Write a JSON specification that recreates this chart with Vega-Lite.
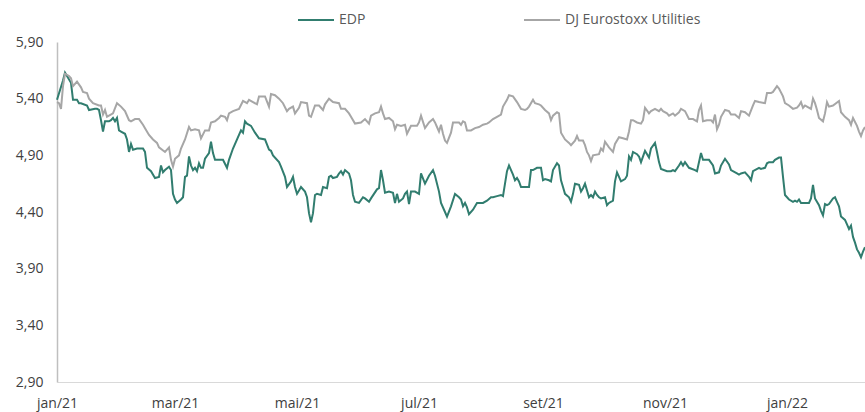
{
  "$schema": "https://vega.github.io/schema/vega-lite/v6.json",
  "width": 808,
  "height": 340,
  "autosize": "none",
  "padding": {"left": 57, "top": 42, "right": 0, "bottom": 30},
  "config": {"view": {"stroke": null}, "font": "Open Sans"},
  "datasets": {
    "edp": [
      {"date":"2021-01-01","value":5.39},{"date":"2021-01-04","value":5.56},{"date":"2021-01-05","value":5.63},{"date":"2021-01-06","value":5.60},{"date":"2021-01-08","value":5.54},{"date":"2021-01-09","value":5.39},{"date":"2021-01-11","value":5.39},{"date":"2021-01-12","value":5.36},{"date":"2021-01-13","value":5.36},{"date":"2021-01-16","value":5.34},{"date":"2021-01-17","value":5.30},{"date":"2021-01-20","value":5.31},{"date":"2021-01-21","value":5.31},{"date":"2021-01-22","value":5.30},{"date":"2021-01-23","value":5.21},{"date":"2021-01-24","value":5.11},{"date":"2021-01-25","value":5.20},{"date":"2021-01-27","value":5.20},{"date":"2021-01-28","value":5.21},{"date":"2021-01-29","value":5.23},{"date":"2021-01-30","value":5.20},{"date":"2021-01-31","value":5.23},
      {"date":"2021-02-01","value":5.12},{"date":"2021-02-02","value":5.11},{"date":"2021-02-04","value":5.09},{"date":"2021-02-05","value":5.04},{"date":"2021-02-06","value":4.93},{"date":"2021-02-07","value":5.00},{"date":"2021-02-08","value":4.95},{"date":"2021-02-10","value":4.96},{"date":"2021-02-13","value":4.96},{"date":"2021-02-14","value":4.93},{"date":"2021-02-15","value":4.79},{"date":"2021-02-17","value":4.76},{"date":"2021-02-19","value":4.70},{"date":"2021-02-21","value":4.71},{"date":"2021-02-22","value":4.81},{"date":"2021-02-23","value":4.75},{"date":"2021-02-24","value":4.77},{"date":"2021-02-26","value":4.80},{"date":"2021-02-27","value":4.77},{"date":"2021-02-28","value":4.56},
      {"date":"2021-03-01","value":4.51},{"date":"2021-03-02","value":4.48},{"date":"2021-03-04","value":4.51},{"date":"2021-03-05","value":4.53},{"date":"2021-03-06","value":4.71},{"date":"2021-03-07","value":4.72},{"date":"2021-03-08","value":4.89},{"date":"2021-03-09","value":4.81},{"date":"2021-03-10","value":4.77},{"date":"2021-03-11","value":4.79},{"date":"2021-03-12","value":4.76},{"date":"2021-03-13","value":4.83},{"date":"2021-03-14","value":4.79},{"date":"2021-03-15","value":4.79},{"date":"2021-03-16","value":4.87},{"date":"2021-03-18","value":4.92},{"date":"2021-03-19","value":5.02},{"date":"2021-03-20","value":4.92},{"date":"2021-03-21","value":4.86},{"date":"2021-03-23","value":4.86},{"date":"2021-03-25","value":4.86},{"date":"2021-03-27","value":4.79},{"date":"2021-03-28","value":4.86},{"date":"2021-03-30","value":4.96},
      {"date":"2021-04-02","value":5.08},{"date":"2021-04-03","value":5.12},{"date":"2021-04-04","value":5.10},{"date":"2021-04-05","value":5.20},{"date":"2021-04-06","value":5.18},{"date":"2021-04-08","value":5.16},{"date":"2021-04-10","value":5.10},{"date":"2021-04-12","value":5.05},{"date":"2021-04-15","value":5.04},{"date":"2021-04-17","value":4.95},{"date":"2021-04-18","value":4.94},{"date":"2021-04-19","value":4.90},{"date":"2021-04-22","value":4.84},{"date":"2021-04-23","value":4.80},{"date":"2021-04-25","value":4.71},{"date":"2021-04-26","value":4.62},{"date":"2021-04-28","value":4.67},{"date":"2021-04-29","value":4.71},{"date":"2021-04-30","value":4.62},
      {"date":"2021-05-01","value":4.56},{"date":"2021-05-02","value":4.59},{"date":"2021-05-03","value":4.62},{"date":"2021-05-05","value":4.58},{"date":"2021-05-06","value":4.53},{"date":"2021-05-07","value":4.39},{"date":"2021-05-08","value":4.31},{"date":"2021-05-09","value":4.39},{"date":"2021-05-10","value":4.55},{"date":"2021-05-11","value":4.56},{"date":"2021-05-13","value":4.55},{"date":"2021-05-14","value":4.62},{"date":"2021-05-16","value":4.61},{"date":"2021-05-17","value":4.71},{"date":"2021-05-18","value":4.72},{"date":"2021-05-19","value":4.70},{"date":"2021-05-21","value":4.71},{"date":"2021-05-22","value":4.74},{"date":"2021-05-23","value":4.76},{"date":"2021-05-24","value":4.73},{"date":"2021-05-25","value":4.77},{"date":"2021-05-27","value":4.74},{"date":"2021-05-28","value":4.68},{"date":"2021-05-29","value":4.55},{"date":"2021-05-30","value":4.49},
      {"date":"2021-06-01","value":4.48},{"date":"2021-06-03","value":4.53},{"date":"2021-06-04","value":4.52},{"date":"2021-06-06","value":4.49},{"date":"2021-06-07","value":4.52},{"date":"2021-06-10","value":4.60},{"date":"2021-06-11","value":4.61},{"date":"2021-06-12","value":4.77},{"date":"2021-06-13","value":4.68},{"date":"2021-06-14","value":4.57},{"date":"2021-06-16","value":4.58},{"date":"2021-06-18","value":4.57},{"date":"2021-06-19","value":4.48},{"date":"2021-06-20","value":4.56},{"date":"2021-06-21","value":4.49},{"date":"2021-06-23","value":4.52},{"date":"2021-06-24","value":4.56},{"date":"2021-06-25","value":4.58},{"date":"2021-06-26","value":4.47},{"date":"2021-06-27","value":4.58},{"date":"2021-06-29","value":4.58},
      {"date":"2021-07-01","value":4.56},{"date":"2021-07-02","value":4.74},{"date":"2021-07-04","value":4.65},{"date":"2021-07-06","value":4.72},{"date":"2021-07-08","value":4.77},{"date":"2021-07-09","value":4.72},{"date":"2021-07-11","value":4.58},{"date":"2021-07-12","value":4.48},{"date":"2021-07-14","value":4.40},{"date":"2021-07-15","value":4.36},{"date":"2021-07-17","value":4.45},{"date":"2021-07-19","value":4.56},{"date":"2021-07-21","value":4.53},{"date":"2021-07-22","value":4.51},{"date":"2021-07-23","value":4.45},{"date":"2021-07-24","value":4.48},{"date":"2021-07-25","value":4.44},{"date":"2021-07-26","value":4.38},{"date":"2021-07-28","value":4.42},{"date":"2021-07-30","value":4.48},
      {"date":"2021-08-02","value":4.48},{"date":"2021-08-04","value":4.50},{"date":"2021-08-06","value":4.53},{"date":"2021-08-07","value":4.53},{"date":"2021-08-09","value":4.54},{"date":"2021-08-11","value":4.55},{"date":"2021-08-12","value":4.54},{"date":"2021-08-13","value":4.65},{"date":"2021-08-14","value":4.76},{"date":"2021-08-15","value":4.81},{"date":"2021-08-17","value":4.73},{"date":"2021-08-18","value":4.68},{"date":"2021-08-19","value":4.70},{"date":"2021-08-20","value":4.67},{"date":"2021-08-21","value":4.62},{"date":"2021-08-25","value":4.62},{"date":"2021-08-26","value":4.77},{"date":"2021-08-27","value":4.77},{"date":"2021-08-29","value":4.79},{"date":"2021-08-30","value":4.79},{"date":"2021-08-31","value":4.79},
      {"date":"2021-09-01","value":4.68},{"date":"2021-09-02","value":4.69},{"date":"2021-09-04","value":4.68},{"date":"2021-09-05","value":4.67},{"date":"2021-09-06","value":4.77},{"date":"2021-09-08","value":4.83},{"date":"2021-09-09","value":4.81},{"date":"2021-09-10","value":4.68},{"date":"2021-09-11","value":4.62},{"date":"2021-09-12","value":4.56},{"date":"2021-09-14","value":4.53},{"date":"2021-09-15","value":4.49},{"date":"2021-09-16","value":4.56},{"date":"2021-09-17","value":4.65},{"date":"2021-09-19","value":4.64},{"date":"2021-09-20","value":4.58},{"date":"2021-09-21","value":4.61},{"date":"2021-09-22","value":4.65},{"date":"2021-09-24","value":4.53},{"date":"2021-09-25","value":4.55},{"date":"2021-09-26","value":4.53},{"date":"2021-09-27","value":4.58},{"date":"2021-09-28","value":4.55},{"date":"2021-09-29","value":4.53},{"date":"2021-09-30","value":4.52},
      {"date":"2021-10-02","value":4.53},{"date":"2021-10-03","value":4.46},{"date":"2021-10-04","value":4.48},{"date":"2021-10-06","value":4.50},{"date":"2021-10-07","value":4.67},{"date":"2021-10-08","value":4.75},{"date":"2021-10-09","value":4.71},{"date":"2021-10-10","value":4.67},{"date":"2021-10-12","value":4.69},{"date":"2021-10-13","value":4.72},{"date":"2021-10-14","value":4.89},{"date":"2021-10-15","value":4.86},{"date":"2021-10-16","value":4.93},{"date":"2021-10-18","value":4.91},{"date":"2021-10-19","value":4.89},{"date":"2021-10-20","value":4.84},{"date":"2021-10-22","value":4.94},{"date":"2021-10-24","value":4.88},{"date":"2021-10-25","value":4.96},{"date":"2021-10-27","value":5.01},{"date":"2021-10-28","value":4.93},{"date":"2021-10-29","value":4.84},{"date":"2021-10-30","value":4.78},
      {"date":"2021-11-02","value":4.76},{"date":"2021-11-04","value":4.76},{"date":"2021-11-05","value":4.77},{"date":"2021-11-06","value":4.76},{"date":"2021-11-08","value":4.81},{"date":"2021-11-09","value":4.84},{"date":"2021-11-10","value":4.81},{"date":"2021-11-11","value":4.84},{"date":"2021-11-13","value":4.79},{"date":"2021-11-16","value":4.77},{"date":"2021-11-17","value":4.76},{"date":"2021-11-19","value":4.92},{"date":"2021-11-20","value":4.86},{"date":"2021-11-23","value":4.86},{"date":"2021-11-25","value":4.81},{"date":"2021-11-26","value":4.74},{"date":"2021-11-28","value":4.75},{"date":"2021-11-29","value":4.81},
      {"date":"2021-12-01","value":4.87},{"date":"2021-12-03","value":4.82},{"date":"2021-12-04","value":4.77},{"date":"2021-12-07","value":4.74},{"date":"2021-12-08","value":4.73},{"date":"2021-12-09","value":4.74},{"date":"2021-12-11","value":4.75},{"date":"2021-12-13","value":4.71},{"date":"2021-12-14","value":4.68},{"date":"2021-12-15","value":4.76},{"date":"2021-12-18","value":4.79},{"date":"2021-12-19","value":4.78},{"date":"2021-12-21","value":4.79},{"date":"2021-12-22","value":4.83},{"date":"2021-12-23","value":4.84},{"date":"2021-12-25","value":4.84},{"date":"2021-12-26","value":4.86},{"date":"2021-12-28","value":4.88},{"date":"2021-12-29","value":4.88},{"date":"2021-12-30","value":4.71},{"date":"2021-12-31","value":4.55},
      {"date":"2022-01-02","value":4.51},{"date":"2022-01-04","value":4.49},{"date":"2022-01-05","value":4.50},{"date":"2022-01-06","value":4.49},{"date":"2022-01-07","value":4.51},{"date":"2022-01-08","value":4.48},{"date":"2022-01-10","value":4.48},{"date":"2022-01-12","value":4.48},{"date":"2022-01-13","value":4.52},{"date":"2022-01-14","value":4.64},{"date":"2022-01-15","value":4.52},{"date":"2022-01-17","value":4.46},{"date":"2022-01-18","value":4.41},{"date":"2022-01-19","value":4.37},{"date":"2022-01-20","value":4.47},{"date":"2022-01-21","value":4.46},{"date":"2022-01-22","value":4.47},{"date":"2022-01-24","value":4.52},{"date":"2022-01-25","value":4.53},{"date":"2022-01-26","value":4.49},{"date":"2022-01-27","value":4.45},{"date":"2022-01-28","value":4.36},{"date":"2022-01-30","value":4.33},{"date":"2022-01-31","value":4.29},
      {"date":"2022-02-01","value":4.25},{"date":"2022-02-02","value":4.28},{"date":"2022-02-03","value":4.18},{"date":"2022-02-04","value":4.13},{"date":"2022-02-05","value":4.07},{"date":"2022-02-06","value":4.04},{"date":"2022-02-07","value":4.00},{"date":"2022-02-08","value":4.05},{"date":"2022-02-09","value":4.09}
    ],
    "dj": [
      {"date":"2021-01-01","value":5.37},{"date":"2021-01-02","value":5.36},{"date":"2021-01-03","value":5.31},{"date":"2021-01-04","value":5.51},{"date":"2021-01-05","value":5.62},{"date":"2021-01-07","value":5.60},{"date":"2021-01-08","value":5.58},{"date":"2021-01-09","value":5.51},{"date":"2021-01-11","value":5.55},{"date":"2021-01-13","value":5.50},{"date":"2021-01-14","value":5.46},{"date":"2021-01-16","value":5.45},{"date":"2021-01-17","value":5.40},{"date":"2021-01-19","value":5.36},{"date":"2021-01-22","value":5.34},{"date":"2021-01-23","value":5.34},{"date":"2021-01-24","value":5.26},{"date":"2021-01-25","value":5.30},{"date":"2021-01-26","value":5.24},{"date":"2021-01-27","value":5.25},{"date":"2021-01-29","value":5.27},{"date":"2021-01-31","value":5.36},
      {"date":"2021-02-02","value":5.33},{"date":"2021-02-04","value":5.29},{"date":"2021-02-06","value":5.21},{"date":"2021-02-07","value":5.20},{"date":"2021-02-09","value":5.22},{"date":"2021-02-11","value":5.22},{"date":"2021-02-13","value":5.17},{"date":"2021-02-14","value":5.14},{"date":"2021-02-16","value":5.08},{"date":"2021-02-18","value":5.04},{"date":"2021-02-20","value":5.01},{"date":"2021-02-21","value":4.97},{"date":"2021-02-24","value":4.93},{"date":"2021-02-26","value":4.97},{"date":"2021-02-27","value":4.86},{"date":"2021-02-28","value":4.80},
      {"date":"2021-03-01","value":4.87},{"date":"2021-03-03","value":4.90},{"date":"2021-03-04","value":4.96},{"date":"2021-03-06","value":5.04},{"date":"2021-03-08","value":5.15},{"date":"2021-03-09","value":5.12},{"date":"2021-03-11","value":5.13},{"date":"2021-03-13","value":5.12},{"date":"2021-03-14","value":5.05},{"date":"2021-03-16","value":5.12},{"date":"2021-03-18","value":5.12},{"date":"2021-03-19","value":5.19},{"date":"2021-03-21","value":5.20},{"date":"2021-03-23","value":5.23},{"date":"2021-03-24","value":5.25},{"date":"2021-03-26","value":5.24},{"date":"2021-03-27","value":5.21},{"date":"2021-03-28","value":5.27},{"date":"2021-03-30","value":5.29},
      {"date":"2021-04-02","value":5.31},{"date":"2021-04-04","value":5.38},{"date":"2021-04-06","value":5.36},{"date":"2021-04-07","value":5.39},{"date":"2021-04-09","value":5.37},{"date":"2021-04-11","value":5.35},{"date":"2021-04-12","value":5.42},{"date":"2021-04-15","value":5.42},{"date":"2021-04-17","value":5.33},{"date":"2021-04-18","value":5.44},{"date":"2021-04-20","value":5.43},{"date":"2021-04-22","value":5.40},{"date":"2021-04-24","value":5.36},{"date":"2021-04-26","value":5.29},{"date":"2021-04-27","value":5.31},{"date":"2021-04-29","value":5.33},{"date":"2021-04-30","value":5.27},
      {"date":"2021-05-02","value":5.32},{"date":"2021-05-03","value":5.37},{"date":"2021-05-06","value":5.36},{"date":"2021-05-07","value":5.25},{"date":"2021-05-08","value":5.24},{"date":"2021-05-10","value":5.34},{"date":"2021-05-12","value":5.34},{"date":"2021-05-14","value":5.30},{"date":"2021-05-15","value":5.35},{"date":"2021-05-17","value":5.40},{"date":"2021-05-19","value":5.37},{"date":"2021-05-22","value":5.36},{"date":"2021-05-23","value":5.31},{"date":"2021-05-25","value":5.31},{"date":"2021-05-27","value":5.27},{"date":"2021-05-28","value":5.24},{"date":"2021-05-30","value":5.18},
      {"date":"2021-06-02","value":5.19},{"date":"2021-06-04","value":5.22},{"date":"2021-06-06","value":5.18},{"date":"2021-06-07","value":5.25},{"date":"2021-06-09","value":5.27},{"date":"2021-06-11","value":5.28},{"date":"2021-06-12","value":5.33},{"date":"2021-06-13","value":5.27},{"date":"2021-06-14","value":5.22},{"date":"2021-06-16","value":5.23},{"date":"2021-06-18","value":5.20},{"date":"2021-06-19","value":5.13},{"date":"2021-06-20","value":5.17},{"date":"2021-06-22","value":5.16},{"date":"2021-06-24","value":5.17},{"date":"2021-06-25","value":5.09},{"date":"2021-06-27","value":5.16},{"date":"2021-06-30","value":5.16},
      {"date":"2021-07-01","value":5.19},{"date":"2021-07-02","value":5.25},{"date":"2021-07-04","value":5.14},{"date":"2021-07-06","value":5.19},{"date":"2021-07-08","value":5.22},{"date":"2021-07-09","value":5.19},{"date":"2021-07-10","value":5.15},{"date":"2021-07-11","value":5.11},{"date":"2021-07-12","value":5.17},{"date":"2021-07-13","value":5.09},{"date":"2021-07-14","value":5.03},{"date":"2021-07-15","value":5.01},{"date":"2021-07-17","value":5.10},{"date":"2021-07-18","value":5.19},{"date":"2021-07-21","value":5.19},{"date":"2021-07-22","value":5.17},{"date":"2021-07-23","value":5.20},{"date":"2021-07-24","value":5.19},{"date":"2021-07-25","value":5.12},{"date":"2021-07-27","value":5.12},{"date":"2021-07-29","value":5.14},{"date":"2021-07-31","value":5.15},
      {"date":"2021-08-02","value":5.17},{"date":"2021-08-04","value":5.18},{"date":"2021-08-05","value":5.19},{"date":"2021-08-07","value":5.22},{"date":"2021-08-09","value":5.24},{"date":"2021-08-11","value":5.26},{"date":"2021-08-12","value":5.33},{"date":"2021-08-14","value":5.39},{"date":"2021-08-15","value":5.43},{"date":"2021-08-17","value":5.42},{"date":"2021-08-19","value":5.37},{"date":"2021-08-21","value":5.31},{"date":"2021-08-23","value":5.30},{"date":"2021-08-24","value":5.31},{"date":"2021-08-25","value":5.33},{"date":"2021-08-27","value":5.39},{"date":"2021-08-28","value":5.36},{"date":"2021-08-30","value":5.35},{"date":"2021-08-31","value":5.34},
      {"date":"2021-09-02","value":5.30},{"date":"2021-09-04","value":5.27},{"date":"2021-09-05","value":5.21},{"date":"2021-09-06","value":5.25},{"date":"2021-09-08","value":5.28},{"date":"2021-09-09","value":5.27},{"date":"2021-09-10","value":5.10},{"date":"2021-09-12","value":5.04},{"date":"2021-09-14","value":5.01},{"date":"2021-09-15","value":4.99},{"date":"2021-09-17","value":5.03},{"date":"2021-09-18","value":5.07},{"date":"2021-09-19","value":5.03},{"date":"2021-09-21","value":5.03},{"date":"2021-09-22","value":4.99},{"date":"2021-09-23","value":4.93},{"date":"2021-09-24","value":4.90},{"date":"2021-09-25","value":4.85},{"date":"2021-09-26","value":4.90},{"date":"2021-09-29","value":4.91},{"date":"2021-09-30","value":4.96},
      {"date":"2021-10-01","value":4.94},{"date":"2021-10-02","value":5.02},{"date":"2021-10-04","value":4.97},{"date":"2021-10-06","value":4.93},{"date":"2021-10-07","value":5.00},{"date":"2021-10-09","value":5.06},{"date":"2021-10-11","value":5.05},{"date":"2021-10-13","value":5.04},{"date":"2021-10-14","value":5.11},{"date":"2021-10-15","value":5.21},{"date":"2021-10-16","value":5.21},{"date":"2021-10-18","value":5.19},{"date":"2021-10-20","value":5.18},{"date":"2021-10-21","value":5.21},{"date":"2021-10-22","value":5.32},{"date":"2021-10-24","value":5.27},{"date":"2021-10-25","value":5.29},{"date":"2021-10-27","value":5.31},{"date":"2021-10-29","value":5.29},{"date":"2021-10-30","value":5.31},{"date":"2021-10-31","value":5.29},
      {"date":"2021-11-02","value":5.27},{"date":"2021-11-03","value":5.25},{"date":"2021-11-05","value":5.27},{"date":"2021-11-06","value":5.25},{"date":"2021-11-08","value":5.28},{"date":"2021-11-09","value":5.31},{"date":"2021-11-11","value":5.29},{"date":"2021-11-13","value":5.22},{"date":"2021-11-15","value":5.22},{"date":"2021-11-17","value":5.20},{"date":"2021-11-18","value":5.30},{"date":"2021-11-19","value":5.34},{"date":"2021-11-20","value":5.20},{"date":"2021-11-22","value":5.21},{"date":"2021-11-24","value":5.21},{"date":"2021-11-25","value":5.19},{"date":"2021-11-26","value":5.26},{"date":"2021-11-27","value":5.13},{"date":"2021-11-28","value":5.17},{"date":"2021-11-29","value":5.24},
      {"date":"2021-12-01","value":5.30},{"date":"2021-12-03","value":5.29},{"date":"2021-12-04","value":5.26},{"date":"2021-12-06","value":5.26},{"date":"2021-12-08","value":5.23},{"date":"2021-12-09","value":5.29},{"date":"2021-12-11","value":5.28},{"date":"2021-12-13","value":5.25},{"date":"2021-12-15","value":5.34},{"date":"2021-12-16","value":5.38},{"date":"2021-12-18","value":5.37},{"date":"2021-12-21","value":5.36},{"date":"2021-12-22","value":5.45},{"date":"2021-12-24","value":5.45},{"date":"2021-12-25","value":5.46},{"date":"2021-12-27","value":5.51},{"date":"2021-12-28","value":5.49},{"date":"2021-12-30","value":5.42},{"date":"2021-12-31","value":5.36},
      {"date":"2022-01-02","value":5.34},{"date":"2022-01-04","value":5.31},{"date":"2022-01-06","value":5.32},{"date":"2022-01-07","value":5.34},{"date":"2022-01-08","value":5.37},{"date":"2022-01-09","value":5.32},{"date":"2022-01-10","value":5.34},{"date":"2022-01-11","value":5.33},{"date":"2022-01-13","value":5.31},{"date":"2022-01-14","value":5.40},{"date":"2022-01-15","value":5.36},{"date":"2022-01-16","value":5.30},{"date":"2022-01-17","value":5.23},{"date":"2022-01-19","value":5.20},{"date":"2022-01-20","value":5.27},{"date":"2022-01-21","value":5.37},{"date":"2022-01-22","value":5.33},{"date":"2022-01-24","value":5.34},{"date":"2022-01-27","value":5.38},{"date":"2022-01-28","value":5.28},{"date":"2022-01-30","value":5.24},
      {"date":"2022-02-01","value":5.21},{"date":"2022-02-02","value":5.17},{"date":"2022-02-03","value":5.23},{"date":"2022-02-05","value":5.16},{"date":"2022-02-06","value":5.11},{"date":"2022-02-07","value":5.07},{"date":"2022-02-08","value":5.12},{"date":"2022-02-09","value":5.15}
    ]
  },
  "encoding": {
    "x": {
      "field": "date",
      "type": "temporal",
      "scale": {"type": "utc", "domain": ["2021-01-01", "2022-02-09"], "nice": false},
      "axis": {
        "title": null,
        "grid": false,
        "ticks": false,
        "domainColor": "#d9d9d9",
        "domainWidth": 1,
        "tickCount": {"interval": "month", "step": 2},
        "labelExpr": "['jan','fev','mar','abr','mai','jun','jul','ago','set','out','nov','dez'][utcmonth(datum.value)] + '/' + utcFormat(datum.value, '%y')",
        "labelFont": "Open Sans",
        "labelFontSize": 14,
        "labelColor": "#404040",
        "labelPadding": 14,
        "labelFlush": false,
        "labelOverlap": false
      }
    },
    "y": {
      "field": "value",
      "type": "quantitative",
      "scale": {"domain": [2.9, 5.9], "nice": false, "zero": false},
      "axis": {
        "title": null,
        "grid": false,
        "ticks": false,
        "values": [2.9, 3.4, 3.9, 4.4, 4.9, 5.4, 5.9],
        "labelExpr": "replace(format(datum.value, '.2f'), '.', ',')",
        "domainColor": "#bfbfbf",
        "domainWidth": 1.5,
        "labelFont": "Open Sans",
        "labelFontSize": 14,
        "labelColor": "#404040",
        "labelPadding": 14
      }
    }
  },
  "layer": [
    {
      "data": {"name": "edp"},
      "mark": {"type": "line", "strokeWidth": 2, "interpolate": "linear"},
      "encoding": {
        "color": {
          "datum": "EDP",
          "scale": {"domain": ["EDP", "DJ Eurostoxx Utilities"], "range": ["#317d6f", "#a6a6a6"]},
          "legend": {
            "title": null,
            "orient": "none",
            "direction": "horizontal",
            "legendX": 240,
            "legendY": -41,
            "symbolType": "stroke",
            "symbolSize": 1296,
            "symbolStrokeWidth": 2,
            "labelFont": "Open Sans",
            "labelFontSize": 14,
            "labelColor": "#595959",
            "labelOffset": 4,
            "columnPadding": 154
          }
        }
      }
    },
    {
      "data": {"name": "dj"},
      "mark": {"type": "line", "strokeWidth": 2, "interpolate": "linear"},
      "encoding": {
        "color": {"datum": "DJ Eurostoxx Utilities"}
      }
    }
  ]
}
